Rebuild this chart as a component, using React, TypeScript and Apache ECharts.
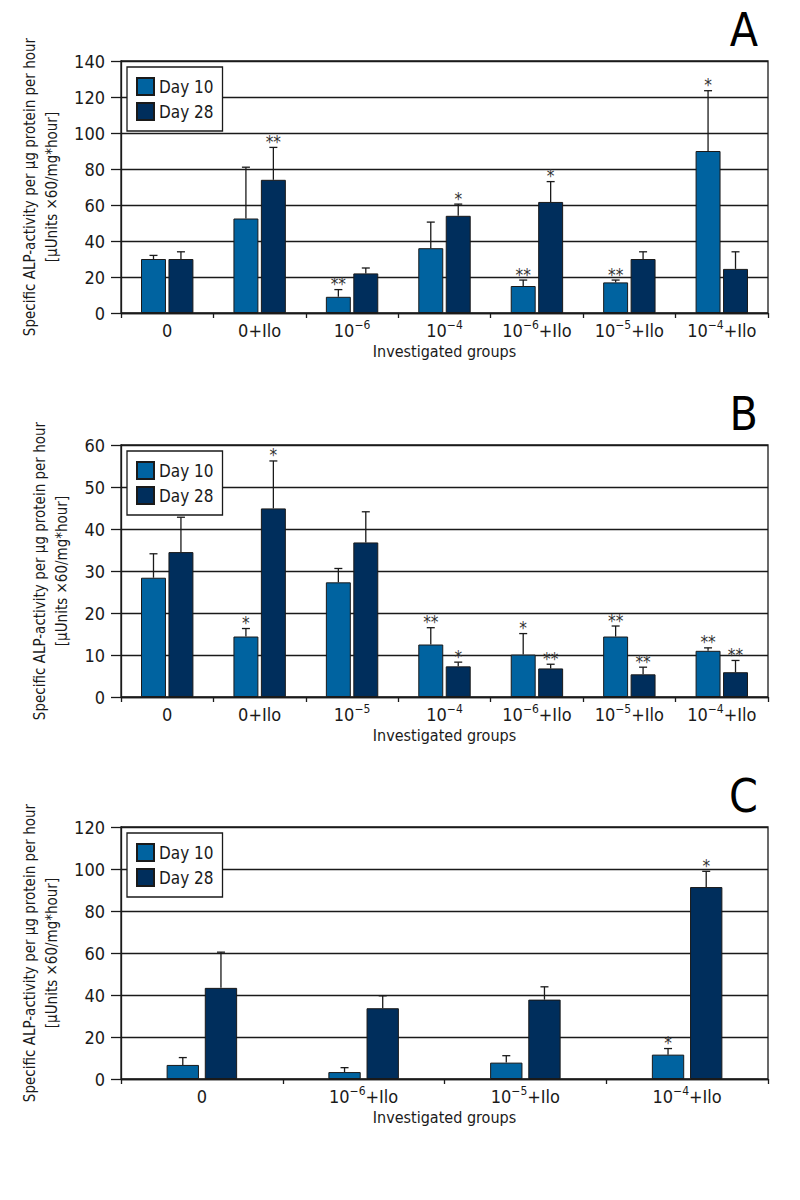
import React, { useEffect, useRef } from "react";
import * as echarts from "echarts";

const FONT = "'Liberation Sans Narrow', 'DejaVu Sans Condensed', 'Open Sans', sans-serif";
const INK = "#1a1a1a";
const DAY10_COLOR = "#0063a0";
const DAY28_COLOR = "#002e5c";

const seriesNames = ["Day 10", "Day 28"];

// Panel A
const groupsA = ["0", "0+Ilo", "10⁻⁶", "10⁻⁴", "10⁻⁶+Ilo", "10⁻⁵+Ilo", "10⁻⁴+Ilo"];
const day10A = [30, 52.5, 9, 36, 15, 17, 90];
const day10SdA = [2, 28.5, 4, 14.5, 3.3, 1.3, 33.5];
const day10StarsA = ["", "", "**", "", "**", "**", "*"];
const day28A = [30, 74, 22, 54, 61.7, 30, 24.5];
const day28SdA = [4, 18, 3, 6.5, 11.3, 4, 9.5];
const day28StarsA = ["", "**", "", "*", "*", "", ""];

// Panel B
const groupsB = ["0", "0+Ilo", "10⁻⁵", "10⁻⁴", "10⁻⁶+Ilo", "10⁻⁵+Ilo", "10⁻⁴+Ilo"];
const day10B = [28.4, 14.4, 27.3, 12.5, 10.1, 14.4, 11];
const day10SdB = [5.7, 1.9, 3.3, 4, 5, 2.5, 0.7];
const day10StarsB = ["", "*", "", "**", "*", "**", "**"];
const day28B = [34.5, 44.9, 36.8, 7.3, 6.8, 5.4, 5.9];
const day28SdB = [8.3, 11.3, 7.3, 1, 1, 1.7, 2.8];
const day28StarsB = ["", "*", "", "*", "**", "**", "**"];

// Panel C
const groupsC = ["0", "10⁻⁶+Ilo", "10⁻⁵+Ilo", "10⁻⁴+Ilo"];
const day10C = [6.7, 3.3, 7.8, 11.6];
const day10SdC = [3.5, 2.1, 3.3, 2.9];
const day10StarsC = ["", "", "", "*"];
const day28C = [43.4, 33.7, 37.8, 91.4];
const day28SdC = [17, 5.9, 6.1, 7.5];
const day28StarsC = ["", "", "", "*"];

const yMaxes = [140, 60, 120];
const yIntervals = [20, 10, 20];

const panels = [
  { letter: "A", groups: groupsA, d10: day10A, sd10: day10SdA, st10: day10StarsA, d28: day28A, sd28: day28SdA, st28: day28StarsA, top: 61, barPct: 0.27, gapPct: 0.1 },
  { letter: "B", groups: groupsB, d10: day10B, sd10: day10SdB, st10: day10StarsB, d28: day28B, sd28: day28SdB, st28: day28StarsB, top: 445, barPct: 0.27, gapPct: 0.1 },
  { letter: "C", groups: groupsC, d10: day10C, sd10: day10SdC, st10: day10StarsC, d28: day28C, sd28: day28SdC, st28: day28StarsC, top: 827, barPct: 0.2, gapPct: 0.18 },
];

const GRID_LEFT = 121;
const GRID_WIDTH = 647;
const GRID_HEIGHT = 252;

// turn "10⁻⁶+Ilo" into rich text with a real raised exponent
const SUP: Record<string, string> = { "⁻": "−", "⁴": "4", "⁵": "5", "⁶": "6" };
const groupLabel = (v: string) =>
  v.replace(/[⁻⁴⁵⁶]+/g, (m) => `{s|${m.split("").map((c) => SUP[c]).join("")}}`);

const errorBars = (sign: number, barPct: number, gapPct: number, stars: string[]) =>
  (params: any, api: any) => {
    const idx = api.value(0);
    const mean = api.value(1);
    const sd = api.value(2);
    const band = api.size([1, 0])[0];
    const bw = band * barPct;
    const shift = (sign * (bw + bw * gapPct)) / 2;
    const base = api.coord([idx, mean]);
    const top = api.coord([idx, mean + sd]);
    const x = base[0] + shift;
    const lineStyle = { stroke: INK, lineWidth: 1.3 };
    const children: any[] = [
      { type: "line", shape: { x1: x, y1: base[1], x2: x, y2: top[1] }, style: lineStyle },
      { type: "line", shape: { x1: x - 4, y1: top[1], x2: x + 4, y2: top[1] }, style: lineStyle },
    ];
    const s = stars[params.dataIndex];
    if (s) {
      children.push({
        type: "text",
        x: x,
        y: top[1] + 3,
        style: {
          text: s,
          fill: "#333",
          fontFamily: FONT,
          fontSize: 17,
          align: "center",
          verticalAlign: "bottom",
        },
      });
    }
    return { type: "group", children };
  };

const App: React.FC = () => {
  const chartRef = useRef<HTMLDivElement | null>(null);

  useEffect(() => {
    if (!chartRef.current) return;
    const chart = echarts.init(chartRef.current, null, { renderer: "svg" });

    const grid = panels.map((p) => ({
      left: GRID_LEFT,
      top: p.top,
      width: GRID_WIDTH,
      height: GRID_HEIGHT,
      show: true,
      borderColor: INK,
      borderWidth: 1.3,
      backgroundColor: "transparent",
    }));

    const xAxis = panels.map((p, i) => ({
      type: "category",
      gridIndex: i,
      data: p.groups,
      name: "Investigated groups",
      nameLocation: "middle",
      nameGap: 30,
      nameTextStyle: { fontFamily: FONT, fontSize: 16, color: INK },
      axisLine: { lineStyle: { color: INK, width: 1.3 } },
      axisTick: { show: true, length: 5, interval: 0, lineStyle: { color: INK, width: 1.3 } },
      axisLabel: {
        interval: 0,
        fontFamily: FONT,
        fontSize: 18,
        lineHeight: 22,
        color: INK,
        margin: 6,
        formatter: groupLabel,
        rich: {
          s: { fontFamily: FONT, fontSize: 12, lineHeight: 12, verticalAlign: "top", color: INK },
        },
      },
    }));

    const yAxis = panels.map((p, i) => ({
      type: "value",
      gridIndex: i,
      min: 0,
      max: yMaxes[i],
      interval: yIntervals[i],
      name: "Specific ALP-activity per µg protein per hour\n[µUnits ×60/mg*hour]",
      nameLocation: "middle",
      nameGap: 48,
      nameTextStyle: { fontFamily: FONT, fontSize: 15, color: INK, lineHeight: 22 },
      axisLine: { show: true, lineStyle: { color: INK, width: 1.3 } },
      axisTick: { show: true, length: 10, lineStyle: { color: INK, width: 1.3 } },
      axisLabel: { fontFamily: FONT, fontSize: 18, color: INK, margin: 16 },
      splitLine: { show: true, lineStyle: { color: INK, width: 1.3 } },
    }));

    const legend = panels.map((p) => ({
      data: seriesNames.map((name) => ({ name, icon: "rect" })),
      orient: "vertical",
      left: 127,
      top: p.top + 6,
      itemWidth: 17,
      itemHeight: 17,
      itemGap: 6,
      padding: [10, 9, 10, 9],
      backgroundColor: "#ffffff",
      borderColor: INK,
      borderWidth: 1.3,
      selectedMode: false,
      textStyle: { fontFamily: FONT, fontSize: 17, color: INK },
    }));

    const series: any[] = [];
    panels.forEach((p, i) => {
      const barWidth = `${p.barPct * 100}%`;
      const barGap = `${p.gapPct * 100}%`;
      series.push(
        {
          name: seriesNames[0],
          type: "bar",
          xAxisIndex: i,
          yAxisIndex: i,
          data: p.d10,
          barWidth,
          barGap,
          itemStyle: { color: DAY10_COLOR, borderColor: INK, borderWidth: 1 },
        },
        {
          name: seriesNames[1],
          type: "bar",
          xAxisIndex: i,
          yAxisIndex: i,
          data: p.d28,
          barWidth,
          barGap,
          itemStyle: { color: DAY28_COLOR, borderColor: INK, borderWidth: 1 },
        },
        {
          type: "custom",
          xAxisIndex: i,
          yAxisIndex: i,
          z: 5,
          renderItem: errorBars(-1, p.barPct, p.gapPct, p.st10),
          data: p.d10.map((v, k) => [k, v, p.sd10[k]]),
        },
        {
          type: "custom",
          xAxisIndex: i,
          yAxisIndex: i,
          z: 5,
          renderItem: errorBars(1, p.barPct, p.gapPct, p.st28),
          data: p.d28.map((v, k) => [k, v, p.sd28[k]]),
        }
      );
    });

    const graphic = panels.map((p) => ({
      type: "text",
      right: 42,
      top: p.top - 54,
      style: { text: p.letter, fontFamily: FONT, fontSize: 46, fill: "#000" },
    }));

    chart.setOption({
      animation: false,
      backgroundColor: "#ffffff",
      textStyle: { fontFamily: FONT },
      grid,
      xAxis,
      yAxis,
      legend,
      series,
      graphic,
    });

    return () => {
      chart.dispose();
    };
  }, []);

  return (
    <div
      ref={chartRef}
      style={{ position: "absolute", top: 0, left: 0, width: "800px", height: "1200px" }}
    />
  );
};

export default App;
